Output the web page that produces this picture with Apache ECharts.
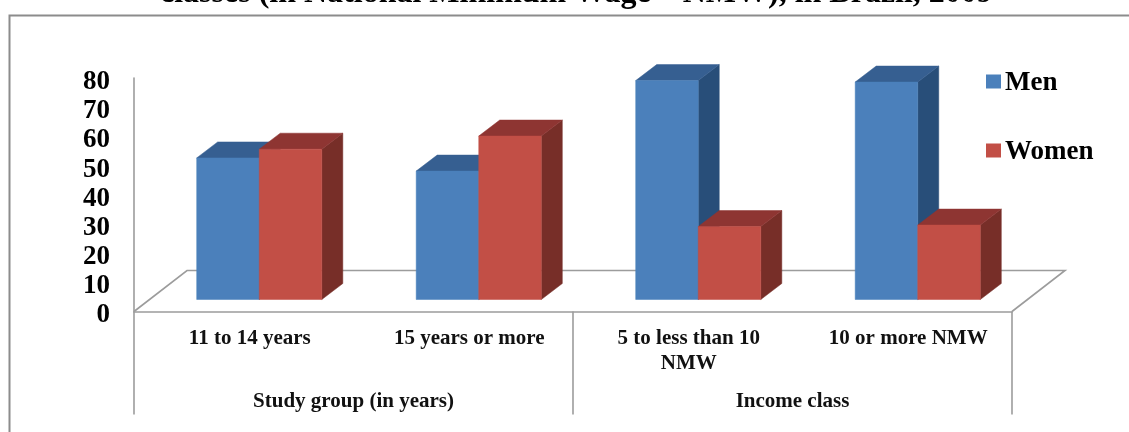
<!DOCTYPE html>
<html>
<head>
<meta charset="utf-8">
<style>html,body{margin:0;padding:0;background:#fff}#chart{width:1129px;height:432px}</style>
<script src="https://cdn.jsdelivr.net/npm/echarts@6/dist/echarts.min.js"></script>
</head>
<body>
<div id="chart"></div>
<script>
// Share of men and women by study group and income class (percent).
const categories = ['11 to 14 years', '15 years or more', '5 to less than 10\nNMW', '10 or more NMW'];
const groups = ['Study group (in years)', 'Income class'];
const men = [48.5, 44, 75, 74.5];
const women = [51.5, 56, 25, 25.5];
const yMax = 80;
const yStep = 10;
const titleText = 'classes (in National Minimum Wage \u2013 NMW), in Brazil, 2009';

const SERIF = '"Liberation Serif", serif';
const LINE = '#9c9c9c';

// Oblique projection used for the bar boxes and the floor.
const BOX_DX = 21, BOX_DY = 16;
const FLOOR_DX = 53, FLOOR_DY = 41;
const BASE_LIFT = 12;        // bars stand on the middle of the floor
const GROUP_SHIFT = 15.5;    // bars sit slightly right of the band centre
const BAR_FRACTION = 0.285;  // bar width as a share of a category band

function poly(points, fill) {
  return { type: 'polygon', shape: { points }, style: { fill, stroke: fill, lineWidth: 0.5 } };
}

function boxRenderer(side, colors) {
  return function (params, api) {
    const idx = api.value(0);
    const band = api.size([1, 0])[0];
    const w = band * BAR_FRACTION;
    const cx = api.coord([idx, 0])[0] + GROUP_SHIFT;
    const x0 = side === 0 ? cx - w : cx;
    const x1 = x0 + w;
    const yb = api.coord([idx, 0])[1] - BASE_LIFT;
    const yt = api.coord([idx, api.value(1)])[1] - BASE_LIFT;
    return {
      type: 'group',
      children: [
        poly([[x1, yt], [x1 + BOX_DX, yt - BOX_DY], [x1 + BOX_DX, yb - BOX_DY], [x1, yb]], colors.side),
        poly([[x0, yt], [x0 + BOX_DX, yt - BOX_DY], [x1 + BOX_DX, yt - BOX_DY], [x1, yt]], colors.top),
        poly([[x0, yt], [x1, yt], [x1, yb], [x0, yb]], colors.front)
      ]
    };
  };
}

function floorRenderer(params) {
  const g = params.coordSys;
  const l = g.x, r = g.x + g.width, b = g.y + g.height;
  return {
    type: 'polyline',
    shape: { points: [[l, b], [l + FLOOR_DX, b - FLOOR_DY], [r + FLOOR_DX, b - FLOOR_DY], [r, b]] },
    style: { fill: null, stroke: LINE, lineWidth: 1.6 }
  };
}

const bigText = { fontFamily: SERIF, fontWeight: 'bold', fontSize: 27, color: '#000' };

const chart = echarts.init(document.getElementById('chart'), null, { renderer: 'canvas' });
chart.setOption({
  animation: false,
  backgroundColor: '#fff',
  title: {
    text: titleText, left: 155, top: -27,
    textStyle: { fontFamily: SERIF, fontWeight: 'bold', fontSize: 32, color: '#000' }
  },
  legend: {
    data: ['Men', 'Women'], orient: 'vertical', left: 986, top: 70, padding: 0,
    itemWidth: 15, itemHeight: 14, itemGap: 42, icon: 'rect',
    formatter: '{n|{name}}',
    textStyle: { ...bigText, rich: { n: { ...bigText, padding: [4, 0, 0, -1] } } }
  },
  grid: { left: 134, right: 117, top: 78, bottom: 120.5 },
  graphic: [{
    type: 'polyline',
    silent: true,
    shape: { points: [[9.5, 432], [9.5, 15.5], [1129, 15.5]] },
    style: { fill: null, stroke: '#8c8c8c', lineWidth: 2 }
  }],
  xAxis: [{
    type: 'category', data: categories, position: 'bottom',
    axisLine: { show: true, lineStyle: { color: LINE, width: 1.6 } },
    axisTick: { show: false },
    axisLabel: {
      interval: 0, margin: 15, lineHeight: 25, padding: [0, 0, 0, 12],
      fontFamily: SERIF, fontWeight: 'bold', fontSize: 21, color: '#111'
    }
  }, {
    type: 'category', data: groups, position: 'bottom',
    axisLine: { show: false },
    axisTick: { show: true, length: 103, lineStyle: { color: LINE, width: 1.6 } },
    axisLabel: {
      interval: 0, margin: 80,
      fontFamily: SERIF, fontWeight: 'bold', fontSize: 21, color: '#111'
    }
  }],
  yAxis: {
    type: 'value', min: 0, max: yMax, interval: yStep,
    axisLine: { show: true, lineStyle: { color: LINE, width: 1.6 } },
    axisTick: { show: false },
    splitLine: { show: false },
    axisLabel: {
      margin: 24, formatter: '{n|{value}}', ...bigText,
      rich: { n: { ...bigText, padding: [8, 0, 0, 0] } }
    }
  },
  series: [{
    name: 'floor', type: 'custom', silent: true, z: 1,
    data: [[0, 0]], renderItem: floorRenderer
  }, {
    name: 'Men', type: 'custom', z: 2,
    itemStyle: { color: '#4b80bb' },
    encode: { x: 0, y: 1 },
    data: men.map((v, i) => [i, v]),
    renderItem: boxRenderer(0, { front: '#4b80bb', top: '#365f91', side: '#284e79' })
  }, {
    name: 'Women', type: 'custom', z: 3,
    itemStyle: { color: '#c24f46' },
    encode: { x: 0, y: 1 },
    data: women.map((v, i) => [i, v]),
    renderItem: boxRenderer(1, { front: '#c24f46', top: '#8e3532', side: '#772e28' })
  }]
});
</script>
</body>
</html>
